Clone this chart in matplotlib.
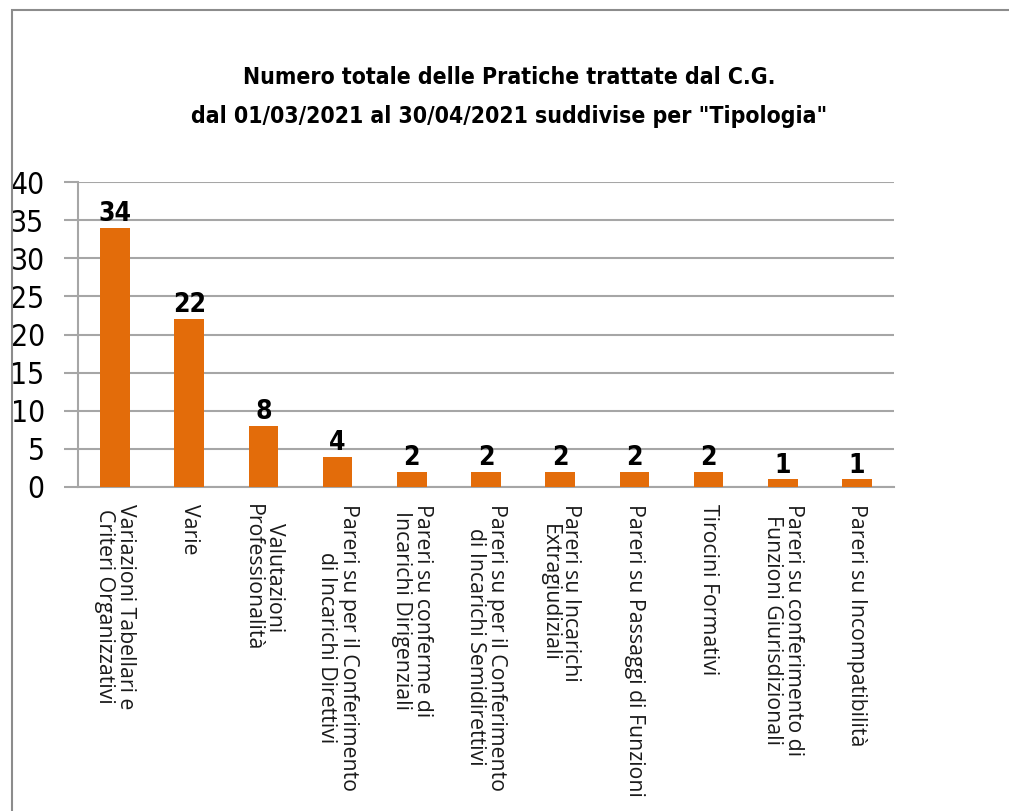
import matplotlib
matplotlib.use("Agg")
import matplotlib.pyplot as plt
from matplotlib.patches import Rectangle
from matplotlib import font_manager

categories = [
    "Variazioni Tabellari e\nCriteri Organizzativi",
    "Varie",
    "Valutazioni\nProfessionalità",
    "Pareri su per il Conferimento\ndi Incarichi Direttivi",
    "Pareri su conferme di\nIncarichi Dirigenziali",
    "Pareri su per il Conferimento\ndi Incarichi Semidirettivi",
    "Pareri su Incarichi\nExtragiudiziali",
    "Pareri su Passaggi di Funzioni",
    "Tirocini Formativi",
    "Pareri su conferimento di\nFunzioni Giurisdizionali",
    "Pareri su Incompatibilità",
]
values = [34, 22, 8, 4, 2, 2, 2, 2, 2, 1, 1]
yticks = [0, 5, 10, 15, 20, 25, 30, 35, 40]
title = 'Numero totale delle Pratiche trattate dal C.G.\ndal 01/03/2021 al 30/04/2021 suddivise per "Tipologia"'

cond = font_manager.FontProperties(family="DejaVu Sans", stretch="condensed")
cond_b = font_manager.FontProperties(family="DejaVu Sans", stretch="condensed", weight="bold")

W, H = 1009, 811
fig = plt.figure(figsize=(W / 100, H / 100), dpi=100)
fig.patch.set_facecolor("white")

fig.patches.append(Rectangle((12 / W, -0.02), 1.05, 1 - 10 / H + 0.02,
                             transform=fig.transFigure, fill=False,
                             edgecolor="#8c8c8c", linewidth=1.5))

ax = fig.add_axes([78 / W, 1 - 487 / H, (894 - 78) / W, (487 - 182) / H])
x = list(range(len(categories)))
ax.bar(x, values, width=0.4, color="#E36C0A", zorder=3)
ax.set_xlim(-0.5, len(categories) - 0.5)
ax.set_ylim(0, 40)
ax.set_yticks(yticks)
ax.set_yticklabels([str(v) for v in yticks])
for t in ax.get_yticklabels():
    t.set_fontproperties(cond)
    t.set_fontsize(21.5)
ax.grid(axis="y", color="#a6a6a6", linewidth=1.5, zorder=0)
ax.tick_params(axis="y", length=10, width=1.5, color="#a6a6a6", pad=14)
ax.tick_params(axis="x", length=0, pad=12)
for s in ["top", "right"]:
    ax.spines[s].set_visible(False)
for s in ["left", "bottom"]:
    ax.spines[s].set_color("#a6a6a6")
    ax.spines[s].set_linewidth(1.5)

ax.set_xticks(x)
ax.set_xticklabels(categories, rotation=270, va="top", ha="center",
                   multialignment="center", fontsize=15.3, family="Open Sans",
                   linespacing=1.02, color="#1a1a1a")

for xi, v in zip(x, values):
    t = ax.text(xi, v + 0.1, str(v), ha="center", va="bottom")
    t.set_fontproperties(cond_b)
    t.set_fontsize(19)

tt = fig.text(0.505, 1 - 97 / H, title, ha="center", va="center",
              linespacing=1.85)
tt.set_fontproperties(cond_b)
tt.set_fontsize(16.5)

fig.savefig("out.png", dpi=100)
